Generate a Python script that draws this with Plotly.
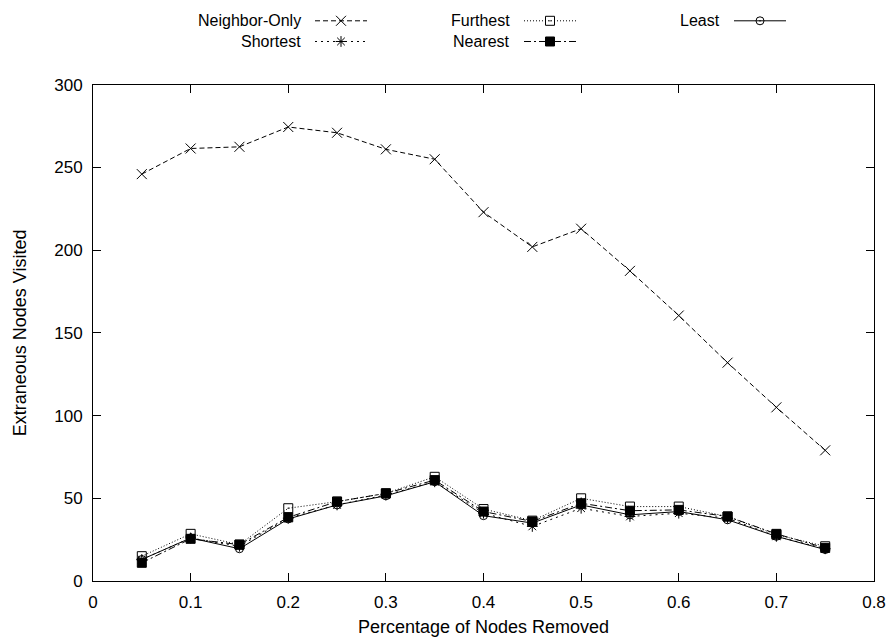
import plotly.graph_objects as go

# Fraction of nodes removed from the network
removed = [0.05, 0.10, 0.15, 0.20, 0.25, 0.30, 0.35, 0.40, 0.45, 0.50, 0.55, 0.60, 0.65, 0.70, 0.75]

# Extraneous nodes visited per routing strategy
neighbor_only = [246, 261.5, 262.5, 274.5, 271, 261, 255, 223, 202, 213, 187.5, 160.5, 132, 105, 79]
shortest = [13, 26, 21, 38, 46, 52, 60, 41, 33, 44, 39, 41, 38, 27, 19.5]
furthest = [15, 28.5, 22, 44, 48, 53, 63, 43.5, 36.5, 50, 45, 45, 39, 28, 21]
nearest = [11, 25.5, 22, 38.5, 48, 53, 61, 42, 36, 47, 42.5, 43, 39, 28.5, 20]
least = [13, 26, 19.5, 37.5, 46, 51.5, 60, 39.5, 35, 46, 40, 42, 37, 27, 19]

x_ticks = [0, 0.1, 0.2, 0.3, 0.4, 0.5, 0.6, 0.7, 0.8]
x_tick_text = ["0", "0.1", "0.2", "0.3", "0.4", "0.5", "0.6", "0.7", "0.8"]
y_ticks = [0, 50, 100, 150, 200, 250, 300]

FONT = "Liberation Sans, Arial, Helvetica, sans-serif"
BLACK = "#000000"

series = [
    ("Neighbor-Only", neighbor_only, "5px,3px", "x-thin-open", 10, 1),
    ("Shortest", shortest, "2px,4px", "asterisk-open", 9, 1),
    ("Furthest", furthest, "1px,2px", "square-open-dot", 9, 1),
    ("Nearest", nearest, "7px,3px,2px,3px", "square", 9, 1),
    ("Least", least, "solid", "circle-open-dot", 8, 1),
]

fig = go.Figure()

for name, values, dash, symbol, size, width in series:
    fig.add_trace(go.Scatter(
        x=removed, y=values, mode="lines+markers", name=name,
        line=dict(color=BLACK, width=width, dash=dash),
        marker=dict(symbol=symbol, size=size, color=BLACK,
                    line=dict(color=BLACK, width=1)),
        xaxis="x", yaxis="y", showlegend=False,
    ))

# Key drawn above the plot: three columns, two rows (label, then line sample)
key_cols = [303, 512, 722]      # right edge of each label, px
key_rows = [12, 33]             # centre of each row, px from top
key_sample = (12, 64)           # sample start/end offset from label edge
key_layout = [(0, 0), (0, 1), (1, 0), (1, 1), (2, 0)]
for (name, values, dash, symbol, size, width), (col, row) in zip(series, key_layout):
    x0 = key_cols[col] + key_sample[0]
    x1 = key_cols[col] + key_sample[1]
    y = key_rows[row]
    fig.add_trace(go.Scatter(
        x=[x0, x1], y=[y, y], mode="lines",
        line=dict(color=BLACK, width=width, dash=dash),
        xaxis="x2", yaxis="y2", showlegend=False, hoverinfo="skip",
    ))
    fig.add_trace(go.Scatter(
        x=[(x0 + x1) / 2], y=[y], mode="markers",
        marker=dict(symbol=symbol, size=size, color=BLACK,
                    line=dict(color=BLACK, width=1)),
        xaxis="x2", yaxis="y2", showlegend=False, hoverinfo="skip",
    ))
    fig.add_annotation(
        x=key_cols[col], y=y, xref="x2", yref="y2", text=name,
        showarrow=False, xanchor="right", yanchor="middle",
        font=dict(family=FONT, size=16, color=BLACK),
    )

W, H = 888, 639
ML, MR, MT, MB = 93, 14, 0, 58
plot_h = H - MT - MB          # 581
top_px = 77
y_dom_top = (plot_h - top_px) / plot_h
key_h = 70

axis_common = dict(
    showline=True, linecolor=BLACK, linewidth=1, mirror="ticks",
    ticks="inside", ticklen=8, tickcolor=BLACK, tickwidth=1,
    showgrid=False, zeroline=False,
    tickfont=dict(family=FONT, size=17, color=BLACK),
)

fig.update_layout(
    width=W, height=H,
    margin=dict(l=ML, r=MR, t=MT, b=MB),
    paper_bgcolor="white", plot_bgcolor="white",
    font=dict(family=FONT, size=16, color=BLACK),
    xaxis=dict(
        range=[0, 0.8], tickvals=x_ticks, ticktext=x_tick_text,
        domain=[0, 1], anchor="y", ticklabelstandoff=6,
        title=dict(text="Percentage of Nodes Removed", standoff=8,
                   font=dict(family=FONT, size=18, color=BLACK)),
        **axis_common,
    ),
    yaxis=dict(
        range=[0, 300], tickvals=y_ticks,
        domain=[0, y_dom_top], anchor="x", ticklabelstandoff=6,
        title=dict(text="Extraneous Nodes Visited", standoff=22,
                   font=dict(family=FONT, size=18, color=BLACK)),
        **axis_common,
    ),
    xaxis2=dict(range=[ML, W - MR], domain=[0, 1], anchor="y2",
                visible=False, fixedrange=True),
    yaxis2=dict(range=[key_h, 0], domain=[1 - key_h / plot_h, 1], anchor="x2",
                visible=False, fixedrange=True),
    showlegend=False,
)

fig.write_html("out.html")
